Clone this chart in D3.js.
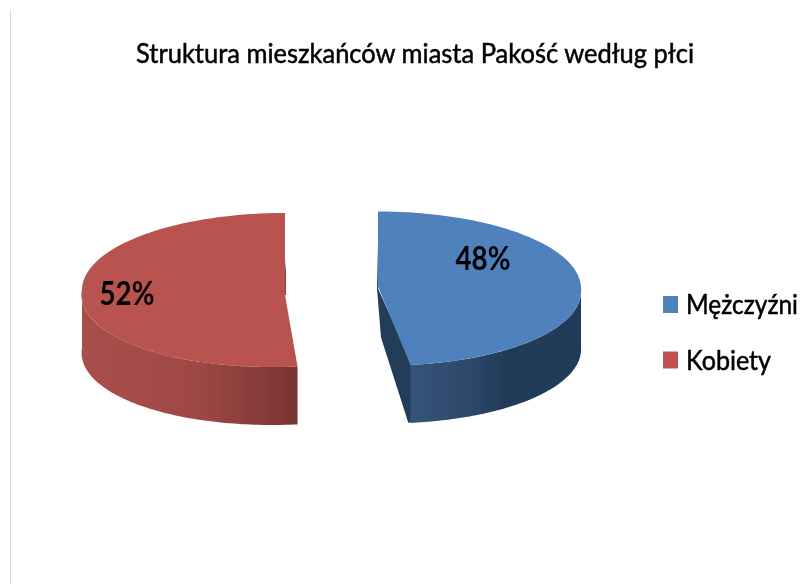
<!DOCTYPE html>
<html>
<head>
<meta charset="utf-8">
<script src="https://cdn.jsdelivr.net/npm/d3@7"></script>
<style>
html,body{margin:0;padding:0;background:#fff;}
svg{display:block;}
text{font-family:Lato,"Open Sans",sans-serif;fill:#000;}
</style>
</head>
<body>
<svg id="chart" width="808" height="584"></svg>
<script>
const chartTitle = "Struktura mieszkańców miasta Pakość według płci";
const categories = ["Mężczyźni", "Kobiety"];
const values = [48, 52];
const topColors = ["#4f81bd", "#b9524f"];
const swatchColors = ["#4f81bd", "#c0504d"];

// layout per slice (exploded pie)
const centers = [[378, 288.5], [285, 290]];
const apexShift = [7, -13];
const labelPos = [[483, 270], [127, 305]];
const legendWidths = [112, 85];
const gradStops = [
  [["0%", "#355479"], ["35%", "#2d4869"], ["55%", "#243b58"], ["100%", "#243b58"]],
  [["0%", "#a94f4c"], ["50%", "#9f4946"], ["80%", "#8a3d3a"], ["100%", "#773330"]]
];
const faceColors = ["#243c59", "#8e3f3c"];
const rx = 203, ry = 77, depth = 58;

const svg = d3.select("#chart");
const defs = svg.append("defs");
defs.append("filter").attr("id", "soft").attr("x", "-5%").attr("y", "-5%").attr("width", "110%").attr("height", "110%")
  .append("feGaussianBlur").attr("stdDeviation", 0.6);

const root = svg.append("g").attr("filter", "url(#soft)");

root.append("line").attr("x1", 10.5).attr("x2", 10.5).attr("y1", 10).attr("y2", 584)
  .attr("stroke", "#dcdcdc").attr("stroke-width", 1);

root.append("text").attr("x", 415).attr("y", 63).attr("text-anchor", "middle")
  .attr("font-size", 27).attr("font-weight", 400).attr("textLength", 558).attr("lengthAdjust", "spacingAndGlyphs")
  .attr("stroke", "#000").attr("stroke-width", 0.5).text(chartTitle);

const pie = d3.pie().sort(null).value(d => d)(values);

function pt(i, theta, dy = 0) {
  const [cx, cy] = centers[i];
  const y = cy - ry * Math.cos(theta);
  const warp = apexShift[i] * Math.max(0, (y - cy) / ry);
  return [cx + rx * Math.sin(theta) + warp, y + dy];
}
const line = d3.line();

pie.forEach((s, i) => {
  const [cx, cy] = centers[i];
  const sample = (a, b, dy) => d3.range(0, 81).map(k => pt(i, a + (b - a) * k / 80, dy));

  const g = root.append("g");
  const gid = "side" + i;
  const vStart = Math.max(s.startAngle, Math.PI / 2);
  const vEnd = Math.min(s.endAngle, 3 * Math.PI / 2);
  const sideTop = sample(vStart, vEnd, 0);
  const sideBottom = sample(vStart, vEnd, depth).reverse();
  const ext = d3.extent(sideTop, p => p[0]);
  const lg = defs.append("linearGradient").attr("id", gid).attr("gradientUnits", "userSpaceOnUse")
    .attr("x1", ext[0]).attr("x2", ext[1]).attr("y1", 0).attr("y2", 0);
  gradStops[i].forEach(st => lg.append("stop").attr("offset", st[0]).attr("stop-color", st[1]));

  // inner cut face
  if (i === 0) {
    const apex = pt(i, s.endAngle);
    g.append("path").attr("fill", faceColors[i]).attr("d", line([
      [cx - 1, cy - 45], [cx, cy], [apex[0] + 2, apex[1]], [apex[0] + 2, apex[1] + depth - 2],
      [apex[0] - 2, apex[1] + depth], [cx + 3, cy + 49], [cx - 1, cy]
    ]) + "Z");
  } else {
    g.append("path").attr("fill", faceColors[i]).attr("d", line([
      [cx + 1, cy - 30], [cx - 2, cy + 5], [cx + 1, cy + 5], [cx + 1, cy - 30]
    ]) + "Z");
  }

  g.append("path").attr("fill", `url(#${gid})`).attr("d", line(sideTop.concat(sideBottom)) + "Z");

  const topPts = [[cx, cy + (i === 1 ? 5 : -2)]].concat(sample(s.startAngle, s.endAngle, 0));
  g.append("path").attr("fill", topColors[i]).attr("d", line(topPts) + "Z");

  root.append("text").attr("x", labelPos[i][0]).attr("y", labelPos[i][1]).attr("text-anchor", "middle")
    .attr("font-size", 33).attr("font-weight", 700).attr("textLength", 55).attr("lengthAdjust", "spacingAndGlyphs")
    .text(values[i] + "%");
});

const legendY = [304.5, 360];
const legend = root.selectAll("g.leg").data(categories).join("g").attr("class", "leg");
legend.append("rect").attr("x", 663).attr("y", (d, i) => legendY[i] - 8.5).attr("width", 15).attr("height", 17)
  .attr("fill", (d, i) => swatchColors[i]);
legend.append("text").attr("x", 686).attr("y", (d, i) => legendY[i] + 9.5)
  .attr("font-size", 26).attr("font-weight", 400).attr("stroke", "#000").attr("stroke-width", 0.5)
  .attr("textLength", (d, i) => legendWidths[i]).attr("lengthAdjust", "spacingAndGlyphs").text(d => d);
</script>
</body>
</html>
